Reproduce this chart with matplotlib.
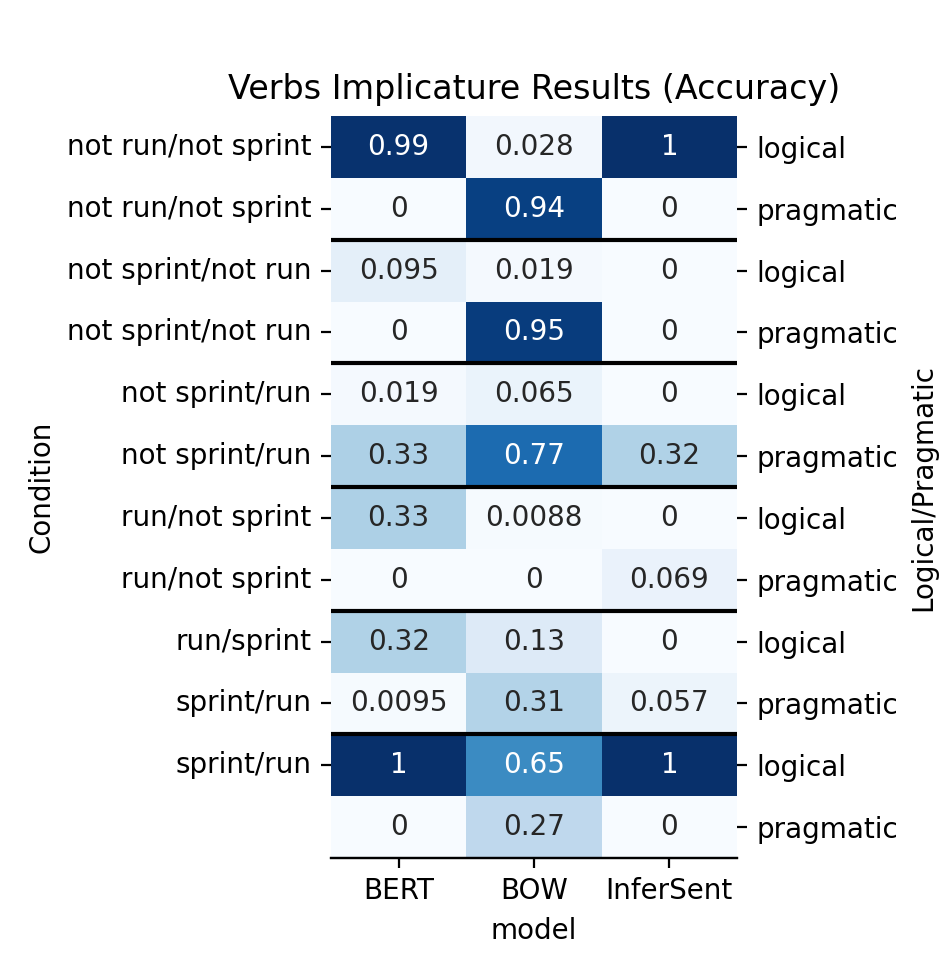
import numpy as np
import pandas as pd
import matplotlib
matplotlib.use('Agg')
import matplotlib.pyplot as plt
import seaborn as sns

models = ['BERT', 'BOW', 'InferSent']
conditions = ['not run/not sprint', 'not run/not sprint',
              'not sprint/not run', 'not sprint/not run',
              'not sprint/run', 'not sprint/run',
              'run/not sprint', 'run/not sprint',
              'run/sprint', 'sprint/run', 'sprint/run']
kinds = ['logical', 'pragmatic'] * 6

bert = [0.99, 0, 0.095, 0, 0.019, 0.33, 0.33, 0, 0.32, 0.0095, 1, 0]
bow = [0.028, 0.94, 0.019, 0.95, 0.065, 0.77, 0.0088, 0, 0.13, 0.31, 0.65, 0.27]
infersent = [1, 0, 0, 0, 0, 0.32, 0, 0.069, 0, 0.057, 1, 0]

df = pd.DataFrame({'BERT': bert, 'BOW': bow, 'InferSent': infersent})

fig = plt.figure(figsize=(4.76, 4.83), dpi=200)
ax = fig.add_axes([0.3477, 0.1118, 0.4265, 0.7681])
sns.heatmap(df, annot=True, cmap='Blues', cbar=False, ax=ax)

# last row has no condition label in the original
ax.set_yticks(np.arange(len(conditions)) + 0.5)
ax.set_yticklabels(conditions, rotation=0, va='center')
ax.set_xticklabels(models)
ax.set_xlabel('model')
ax.set_ylabel('Condition')
ax.set_title('Verbs Implicature Results (Accuracy)')
ax.spines['bottom'].set_visible(True)

for y in [2, 4, 6, 8, 10]:
    ax.axhline(y, color='black', lw=1.5)

ax2 = ax.twinx()
ax2.set_ylim(ax.get_ylim())
ax2.set_yticks(np.arange(len(kinds)) + 0.5)
ax2.set_yticklabels(kinds)
ax2.set_ylabel('Logical/Pragmatic')
for s in ax2.spines.values():
    s.set_visible(False)
ax2.spines['bottom'].set_visible(True)

fig.savefig('out.png', dpi=200)
